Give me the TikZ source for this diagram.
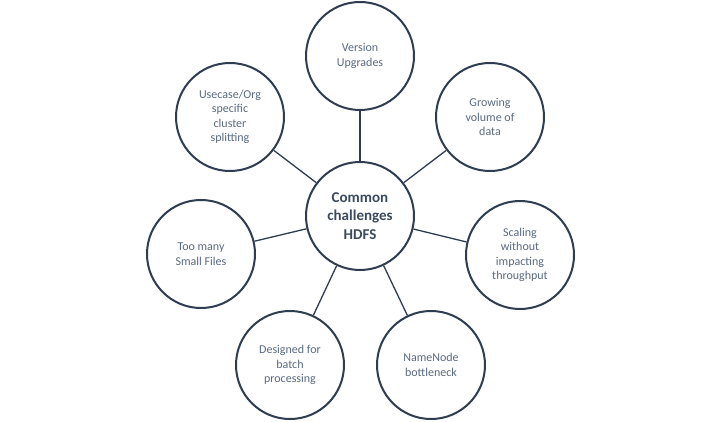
\documentclass[tikz,border=0pt]{standalone}
\usepackage{fontspec}
\setmainfont{Carlito}
\begin{document}
\definecolor{rim}{HTML}{2F3D50}
\definecolor{label}{HTML}{5A6A80}
\definecolor{hubtext}{HTML}{3A4A60}
\begin{tikzpicture}[x=1pt,y=-1pt,
  bubble/.style={circle, draw=rim, line width=2pt, fill=white, minimum size=108pt,
    inner sep=0pt, align=center, text=label, font=\fontsize{12}{14.5}\selectfont},
  hub/.style={bubble, text=hubtext, font=\fontsize{15}{18.5}\selectfont\bfseries},
  spoke/.style={draw=rim, line width=1.3pt}]
  \fill[white] (0,0) rectangle (720,422);
  \useasboundingbox (0,0) rectangle (720,422);

  \node[hub] (hub) at (360,216) {Common\\challenges\\HDFS};
  \node[bubble] (version) at (360,56) {Version\\Upgrades};
  \node[bubble] (growing) at (490,117) {Growing\\volume of\\data};
  \node[bubble] (scaling) at (520,255) {Scaling\\without\\impacting\\throughput};
  \node[bubble] (namenode) at (431,365) {NameNode\\bottleneck};
  \node[bubble] (batch) at (290,365) {Designed for\\batch\\processing};
  \node[bubble] (small) at (201,254) {Too many\\Small Files};
  \node[bubble] (usecase) at (230,117) {Usecase/Org\\specific\\cluster\\splitting};

  \foreach \n in {version,growing,scaling,namenode,batch,small,usecase}
    \draw[spoke] (hub) -- (\n);
\end{tikzpicture}
\end{document}
